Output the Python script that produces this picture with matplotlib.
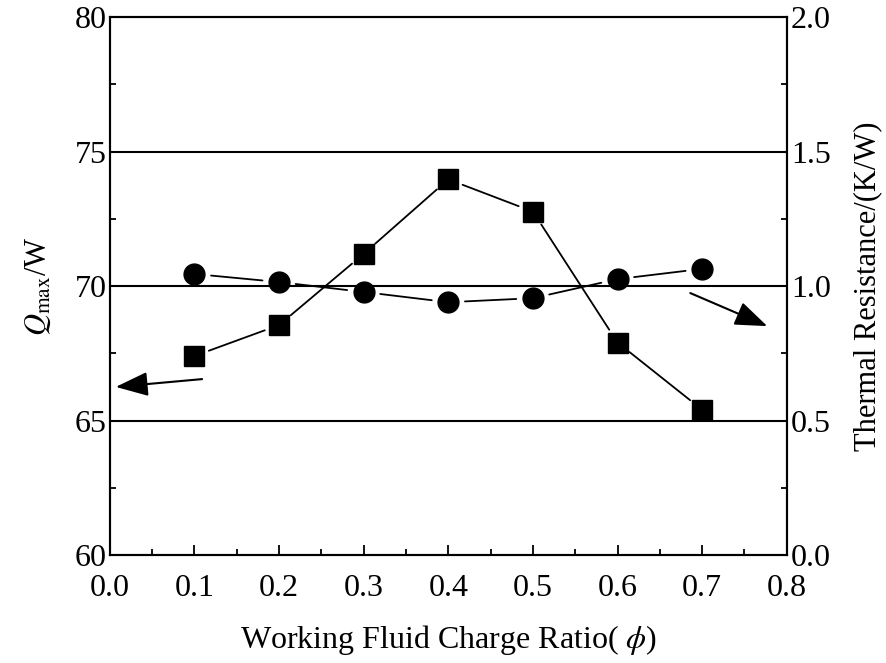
import matplotlib
matplotlib.use('Agg')
import matplotlib.pyplot as plt
from matplotlib.ticker import MultipleLocator

plt.rcParams['font.family'] = ['Liberation Serif', 'DejaVu Serif']
plt.rcParams['mathtext.fontset'] = 'stix'

# data
charge_ratio = [0.1, 0.2, 0.3, 0.4, 0.5, 0.6, 0.7]
q_max = [67.4, 68.55, 71.2, 73.97, 72.77, 67.9, 65.4]
thermal_res = [1.045, 1.015, 0.978, 0.94, 0.955, 1.026, 1.064]
grid_levels = [65, 70, 75]


def gapped_line(ax, x, y, gap=11):
    """Line between markers, stopped short of each marker like the original."""
    for i in range(len(x) - 1):
        ax.annotate('', xy=(x[i + 1], y[i + 1]), xytext=(x[i], y[i]),
                    arrowprops=dict(arrowstyle='-', color='black', lw=1.3,
                                    shrinkA=gap, shrinkB=gap))


fig = plt.figure(figsize=(8.86, 6.63), dpi=100)
ax = fig.add_axes([0.124, 0.163, 0.764, 0.811])
ax2 = ax.twinx()

for lv in grid_levels:
    ax.axhline(lv, color='black', lw=1.5, zorder=1)

ax.plot(charge_ratio, q_max, 's', color='black', ms=14, zorder=3)
gapped_line(ax, charge_ratio, q_max, gap=11)
ax2.plot(charge_ratio, thermal_res, 'o', color='black', ms=15, zorder=3)
gapped_line(ax2, charge_ratio, thermal_res, gap=12)

# arrows pointing to the respective axes
head = '-|>,head_length=2.0,head_width=0.75'
ax.annotate('', xy=(0.007, 66.25), xytext=(0.109, 66.54),
            arrowprops=dict(arrowstyle=head, color='black', lw=1.5,
                            shrinkA=0, shrinkB=0))
ax2.annotate('', xy=(0.777, 0.851), xytext=(0.686, 0.974),
             arrowprops=dict(arrowstyle=head, color='black', lw=1.5,
                             shrinkA=0, shrinkB=0))

ax.set_xlim(0, 0.8)
ax.set_ylim(60, 80)
ax2.set_ylim(0, 2.0)

ax.xaxis.set_major_locator(MultipleLocator(0.1))
ax.xaxis.set_minor_locator(MultipleLocator(0.05))
ax.yaxis.set_major_locator(MultipleLocator(5))
ax.yaxis.set_minor_locator(MultipleLocator(2.5))
ax2.yaxis.set_major_locator(MultipleLocator(0.5))
ax2.yaxis.set_minor_locator(MultipleLocator(0.25))

ax.tick_params(which='both', direction='in', top=False, labelsize=23, width=1.3)
ax.tick_params(which='major', length=7)
ax.tick_params(which='minor', length=4)
ax.tick_params(axis='x', which='major', pad=14)
ax.tick_params(axis='y', which='major', pad=2)
ax2.tick_params(which='both', direction='in', labelsize=23, width=1.3)
ax2.tick_params(which='major', length=7, pad=3)
ax2.tick_params(which='minor', length=4)
ax.xaxis.set_major_formatter(plt.FuncFormatter(lambda v, p: f'{v:.1f}'))
ax2.yaxis.set_major_formatter(plt.FuncFormatter(lambda v, p: f'{v:.1f}'))

for a in (ax, ax2):
    for s in a.spines.values():
        s.set_linewidth(1.5)

ax.set_xlabel(r'Working Fluid Charge Ratio( $\phi$)', fontsize=23, labelpad=14)
ax.set_ylabel(r'$Q_{\rm max}$/W', fontsize=22, labelpad=16)
ax2.set_ylabel('Thermal Resistance/(K/W)', fontsize=22, labelpad=16)

fig.savefig('out.png', dpi=100)
